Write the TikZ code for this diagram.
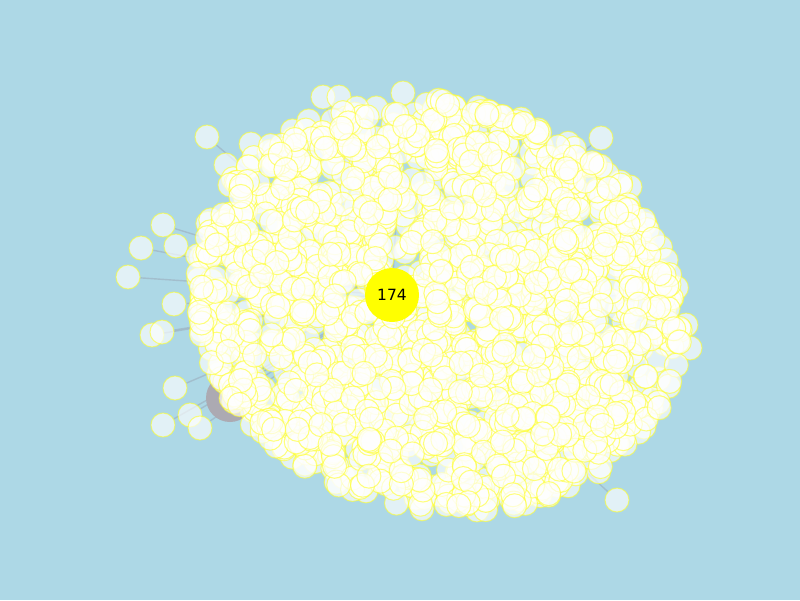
\documentclass[tikz,border=0pt]{standalone}
\usepackage{fontspec}
\setmainfont{DejaVu Sans}
\usepackage{xcolor}
\usepackage{tikz}
\usetikzlibrary{backgrounds}
\definecolor{skyback}{RGB}{173,216,230}
\definecolor{ringyellow}{RGB}{255,255,40}
\definecolor{hubyellow}{RGB}{255,255,0}
\definecolor{blobgray}{RGB}{172,170,178}
\definecolor{linkgray}{RGB}{150,160,175}
\pgfdeclarelayer{edges}
\pgfsetlayers{background,edges,main}

\begin{document}
\begin{tikzpicture}[
  x=0.025cm, y=-0.025cm,
  ball/.style={circle, draw=ringyellow, draw opacity=0.6, fill=white, fill opacity=0.65, line width=0.75pt, minimum size=0.6cm, inner sep=0pt},
  hub/.style={circle, fill=hubyellow, minimum size=1.35cm, inner sep=0pt, font=\fontsize{11}{13}\selectfont, text=black},
  blob/.style={circle, fill=blobgray, minimum size=1.2cm, inner sep=0pt},
  link/.style={draw=linkgray, line width=1pt, opacity=0.45}
]
\begin{pgfonlayer}{background}
\fill[skyback] (0,0) rectangle (800,600);
\end{pgfonlayer}
\useasboundingbox (0,0) rectangle (800,600);

% grey node behind the cloud
\node[blob] (grey) at (230,398) {};

% outlying nodes
\node[ball] (o1) at (207,137) {};
\node[ball] (o2) at (251,144) {};
\node[ball] (o3) at (226,165) {};
\node[ball] (o4) at (163,225) {};
\node[ball] (o5) at (141,248) {};
\node[ball] (o6) at (128,277) {};
\node[ball] (o7) at (152,335) {};
\node[ball] (o8) at (162,332) {};
\node[ball] (o9) at (175,388) {};
\node[ball] (o10) at (163,425) {};
\node[ball] (o11) at (190,415) {};
\node[ball] (o12) at (200,428) {};
\node[ball] (o13) at (601,138) {};
\node[ball] (o14) at (630,187) {};
\node[ball] (o15) at (645,224) {};
\node[ball] (o16) at (668,296) {};
\node[ball] (o17) at (686,325) {};
\node[ball] (o18) at (690,348) {};
\node[ball] (o19) at (617,500) {};
\node[ball] (o20) at (403,93) {};
\node[ball] (o21) at (323,97) {};
\node[ball] (o22) at (339,97) {};
\node[ball] (o23) at (176,246) {};
\node[ball] (o24) at (174,304) {};

% the cloud, a tilted ellipse
\pgfmathsetseed{174}
\foreach \i in {1,...,1900}{
  \pgfmathsetmacro{\ang}{360*rnd}
  \pgfmathsetmacro{\rad}{sqrt(rnd)}
  \pgfmathsetmacro{\u}{246*\rad*cos(\ang)}
  \pgfmathsetmacro{\v}{204*\rad*sin(\ang)}
  \node[ball] (n\i) at ({438+\u*cos(14)-\v*sin(14)},{305+\u*sin(14)+\v*cos(14)}) {};
}

\node[hub] (hub) at (392,295) {174};

\begin{pgfonlayer}{edges}
\foreach \o in {o1,o2,o3,o4,o5,o6,o7,o8,o9,o10,o11,o12,o13,o14,o15,o16,o17,o18,o19,o20,o21,o22,o23,o24,grey}
  \draw[link] (\o) -- (hub);
\end{pgfonlayer}
\end{tikzpicture}
\end{document}
